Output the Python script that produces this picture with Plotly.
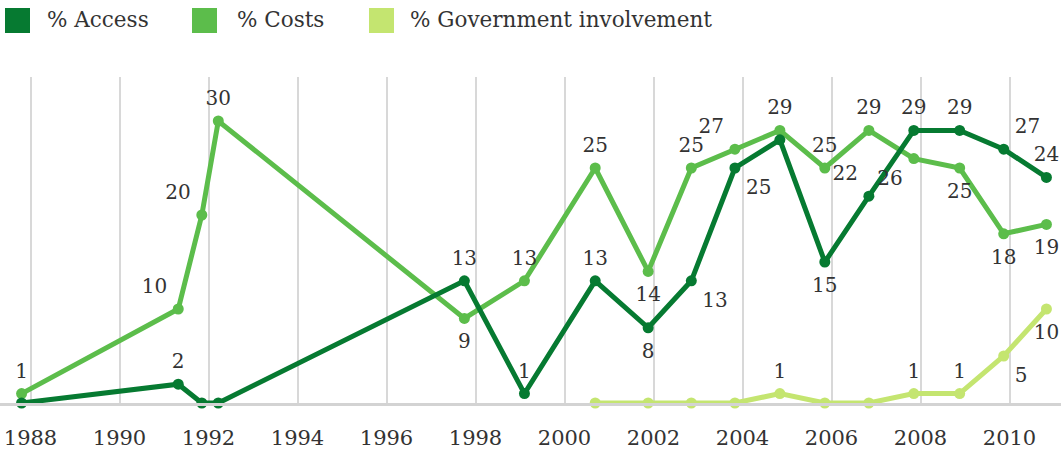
import plotly.graph_objects as go

# Survey dates (decimal years) and shares naming each problem
survey_year = [1987.80, 1991.32, 1991.85, 1992.22, 1997.75, 1999.10, 2000.69, 2001.88,
               2002.85, 2003.83, 2004.84, 2005.85, 2006.84, 2007.85, 2008.88, 2009.87, 2010.83]
access_pct = [0, 2, 0, 0, 13, 1, 13, 8, 13, 25, 28, 15, 22, 29, 29, 27, 24]
costs_pct = [1, 10, 20, 30, 9, 13, 25, 14, 25, 27, 29, 25, 29, 26, 25, 18, 19]
gov_year = survey_year[6:]
gov_pct = [0, 0, 0, 0, 1, 0, 0, 1, 1, 5, 10]
tick_years = list(range(1988, 2011, 2))

series_names = ["% Access", "% Costs", "% Government involvement"]

# Styling
C_ACCESS = "#067a31"
C_COSTS = "#5cbd4b"
C_GOV = "#c4e570"
TEXT = "#333333"
FONT = "DejaVu Serif"

# Where each value label sits relative to its point (None = no label)
access_label_pos = [None, "top center", None, None, "top center", "top center", "top center",
                    "bottom center", "bottom right", "bottom right", None, "bottom center",
                    "top left", "top center", "top center", "top right", "top center"]
costs_label_pos = ["top center", "top left", "top left", "top center", "bottom center",
                   "top center", "top center", "bottom center", "top center", "top left",
                   "top center", "top center", "top center", "bottom left", "bottom center",
                   "bottom center", "bottom center"]
gov_label_pos = [None, None, None, None, "top center", None, None, "top center",
                 "top center", "bottom right", "bottom center"]


def labels(values, positions):
    text = [str(v) if p else "" for v, p in zip(values, positions)]
    pos = [p if p else "top center" for p in positions]
    # labels hanging straight below a point get a little extra clearance
    gap = [22 if p == "bottom center" else 16 for p in pos]
    return text, pos, gap


fig = go.Figure()

series = [
    (gov_year, gov_pct, gov_label_pos, C_GOV),
    (survey_year, costs_pct, costs_label_pos, C_COSTS),
    (survey_year, access_pct, access_label_pos, C_ACCESS),
]

for xs, ys, pos, color in series:
    fig.add_trace(go.Scatter(
        x=xs, y=ys, mode="lines+markers",
        line=dict(color=color, width=5),
        marker=dict(color=color, size=11),
        cliponaxis=False, showlegend=False, hoverinfo="skip",
    ))

for xs, ys, pos, color in series:
    text, tpos, gap = labels(ys, pos)
    fig.add_trace(go.Scatter(
        x=xs, y=ys, mode="markers+text",
        text=text, textposition=tpos,
        textfont=dict(family=FONT, size=20, color=TEXT),
        marker=dict(size=gap, opacity=0),
        cliponaxis=False, showlegend=False, hoverinfo="skip",
    ))

# Legend drawn as swatches + labels along the top
W, H = 1061, 457
TOP, BOTTOM = 77, 403


def py(p):
    return (BOTTOM - p) / (BOTTOM - TOP)


legend_items = [(5, 45, C_ACCESS), (192, 235, C_COSTS), (369, 408, C_GOV)]
for (sx, tx, color), name in zip(legend_items, series_names):
    fig.add_shape(type="rect", xref="paper", yref="paper",
                  x0=sx / W, x1=(sx + 25) / W, y0=py(33), y1=py(8),
                  fillcolor=color, line=dict(width=0))
    fig.add_annotation(xref="paper", yref="paper", x=tx / W, y=py(20),
                       xanchor="left", yanchor="middle", showarrow=False,
                       text=name, font=dict(family=FONT, size=21.5, color=TEXT))

px_per_year = 44.5
x0 = 1988 - 30.5 / px_per_year
x1 = x0 + W / px_per_year
y_top = (BOTTOM - TOP) / 9.4

fig.update_layout(
    width=W, height=H,
    margin=dict(l=0, r=0, t=TOP, b=H - BOTTOM),
    plot_bgcolor="white", paper_bgcolor="white",
    xaxis=dict(
        range=[x0, x1], tickmode="array", tickvals=tick_years,
        ticktext=[str(y) for y in tick_years],
        showgrid=True, gridcolor="#d8d8d8", gridwidth=2,
        showline=True, linecolor="#d3d3d3", linewidth=3,
        zeroline=False, ticks="outside", ticklen=14, tickcolor="rgba(0,0,0,0)",
        tickfont=dict(family=FONT, size=21, color=TEXT),
    ),
    yaxis=dict(range=[0, y_top], visible=False, showgrid=False, zeroline=False),
)

fig.write_html("out.html")
